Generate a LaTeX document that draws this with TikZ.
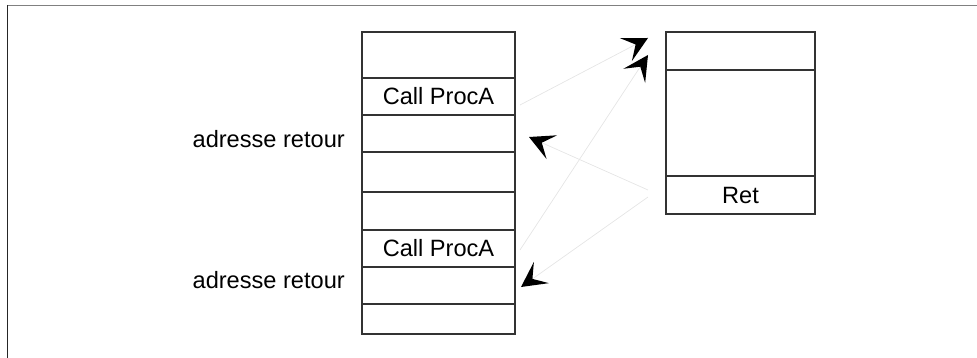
\documentclass[tikz,border=0pt]{standalone}
\usepackage{fontspec}
\setmainfont{Liberation Sans}
\usetikzlibrary{arrows.meta}
\tikzset{
  cell/.style={shape=rectangle,draw=black!80,line width=1.2pt,minimum width=153pt,inner sep=0pt,font=\fontsize{23.6}{28}\selectfont},
  rcell/.style={cell,minimum width=149pt},
  lbl/.style={inner sep=0pt,font=\fontsize{23.6}{28}\selectfont},
  jump/.style={draw=black!10,line width=0.7pt,-{Stealth[length=25pt,width=26pt,inset=11pt,color=black,line width=0pt]}}
}
\begin{document}
\begin{tikzpicture}[x=1pt,y=-1pt]
  \useasboundingbox (0,0) rectangle (977,358);
  \draw[black!50,line width=1.3pt] (7,5.5) -- (977,5.5);
  \draw[black!85,line width=1.5pt] (7.5,5) -- (7.5,358);

  \node[cell,minimum height=46pt] (s1) at (438.5,55) {};
  \node[cell,minimum height=37pt] (s2) at (438.5,96.5) {Call ProcA};
  \node[cell,minimum height=37pt] (s3) at (438.5,133.5) {};
  \node[cell,minimum height=40pt] (s4) at (438.5,172) {};
  \node[cell,minimum height=38pt] (s5) at (438.5,211) {};
  \node[cell,minimum height=37pt] (s6) at (438.5,248.5) {Call ProcA};
  \node[cell,minimum height=37pt] (s7) at (438.5,285.5) {};
  \node[cell,minimum height=30pt] (s8) at (438.5,319) {};

  \node[lbl,anchor=base east] (ar1) at (345,148) {adresse retour};
  \node[lbl,anchor=base east] (ar2) at (345,288) {adresse retour};

  \node[rcell,minimum height=38pt] (p1) at (740.5,51) {};
  \node[rcell,minimum height=106pt] (p2) at (740.5,123) {};
  \node[rcell,minimum height=38pt] (p3) at (740.5,195) {Ret};

  \coordinate (call1) at (520,105);
  \coordinate (call2) at (520,250);
  \coordinate (entry1) at (648,38);
  \coordinate (entry2) at (648,55);
  \coordinate (ret1) at (648,190);
  \coordinate (ret2) at (648,197);
  \coordinate (back1) at (529,137);
  \coordinate (back2) at (521,287);

  \path[jump] (call1) -- (entry1);
  \path[jump] (call2) -- (entry2);
  \path[jump] (ret1) -- (back1);
  \path[jump] (ret2) -- (back2);

\end{tikzpicture}
\end{document}
